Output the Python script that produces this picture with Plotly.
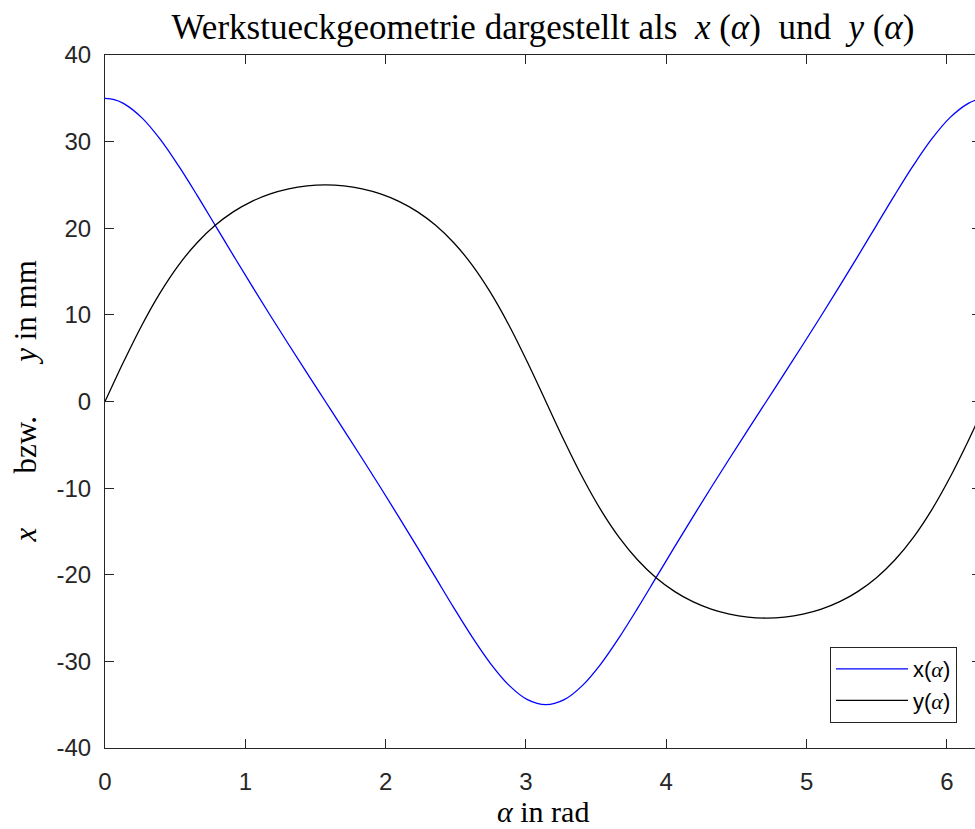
import plotly.graph_objects as go

# Winkel alpha in rad (Stützstellen, 7.5°-Schritte, an den Rändern verdichtet)
alpha = [0.0000, 0.0654, 0.1309, 0.2618, 0.3927, 0.5236, 0.6545, 0.7854, 0.9163, 1.0472, 1.1781,
         1.3090, 1.4399, 1.5708, 1.7017, 1.8326, 1.9635, 2.0944, 2.2253, 2.3562, 2.4871,
         2.6180, 2.7489, 2.8798, 3.0107, 3.1416, 3.2725, 3.4034, 3.5343, 3.6652, 3.7961,
         3.9270, 4.0579, 4.1888, 4.3197, 4.4506, 4.5815, 4.7124, 4.8433, 4.9742, 5.1051,
         5.2360, 5.3669, 5.4978, 5.6287, 5.7596, 5.8905, 6.0214, 6.1523, 6.2177, 6.2832]

# x(alpha) in mm
x_vals = [35.00, 34.85, 34.42, 32.77, 30.28, 27.22, 23.85, 20.34, 16.82, 13.34, 9.93,
          6.58, 3.28, 0.00, -3.28, -6.58, -9.93, -13.34, -16.82, -20.34, -23.85,
          -27.22, -30.28, -32.77, -34.42, -35.00, -34.42, -32.77, -30.28, -27.22, -23.85,
          -20.34, -16.82, -13.34, -9.93, -6.58, -3.28, 0.00, 3.28, 6.58, 9.93,
          13.34, 16.82, 20.34, 23.85, 27.22, 30.28, 32.77, 34.42, 34.85, 35.00]

# y(alpha) in mm
y_vals = [0.00, 2.28, 4.53, 8.78, 12.54, 15.72, 18.30, 20.34, 21.92, 23.11, 23.97,
          24.55, 24.89, 25.00, 24.89, 24.55, 23.97, 23.11, 21.92, 20.34, 18.30,
          15.72, 12.54, 8.78, 4.53, 0.00, -4.53, -8.78, -12.54, -15.72, -18.30,
          -20.34, -21.92, -23.11, -23.97, -24.55, -24.89, -25.00, -24.89, -24.55, -23.97,
          -23.11, -21.92, -20.34, -18.30, -15.72, -12.54, -8.78, -4.53, -2.28, 0.00]

x_ticks = [0, 1, 2, 3, 4, 5, 6]
x_ticklabels = ["0", "1", "2", "3", "4", "5", "6"]
y_ticks = [-40, -30, -20, -10, 0, 10, 20, 30, 40]
y_ticklabels = ["-40", "-30", "-20", "-10", "0", "10", "20", "30", "40"]

AX = "#262626"
SANS = "Liberation Sans, Arial, sans-serif"
SERIF = "Liberation Serif, Times New Roman, serif"
ALPHA_I = '<span style="font-family:Liberation Serif"><i>α</i></span>'

fig = go.Figure()
fig.add_trace(go.Scatter(x=alpha, y=x_vals, mode="lines", name="x(" + ALPHA_I + ")",
                         line=dict(color="#0000ff", width=1.3, shape="spline", smoothing=1.0)))
fig.add_trace(go.Scatter(x=alpha, y=y_vals, mode="lines", name="y(" + ALPHA_I + ")",
                         line=dict(color="#000000", width=1.3, shape="spline", smoothing=1.0)))
fig.add_trace(go.Scatter(x=[], y=[], xaxis="x", yaxis="y2", showlegend=False, hoverinfo="skip"))

fig.update_layout(
    width=975, height=829,
    margin=dict(l=105, r=0, t=55, b=81),
    paper_bgcolor="white", plot_bgcolor="white",
    showlegend=True,
    title=dict(
        text="Werkstueckgeometrie dargestellt als  <i>x</i> (<i>α</i>)  und  <i>y</i> (<i>α</i>)",
        font=dict(family=SERIF, size=35, color="#000000"),
        x=(543) / 975, xanchor="center", y=1 - 27 / 829, yanchor="middle",
    ),
    xaxis=dict(
        range=[0, 6.2], tickvals=x_ticks, ticktext=x_ticklabels,
        ticks="inside", ticklen=9, tickwidth=1, tickcolor=AX,
        showline=True, linecolor=AX, linewidth=1, mirror="ticks",
        showgrid=False, zeroline=False,
        tickfont=dict(family=SANS, size=24, color=AX),
        ticklabelstandoff=12,
    ),
    yaxis=dict(
        range=[-40, 40], tickvals=y_ticks, ticktext=y_ticklabels,
        ticks="inside", ticklen=9, tickwidth=1, tickcolor=AX,
        showline=True, linecolor=AX, linewidth=1, mirror=False,
        showgrid=False, zeroline=False,
        tickfont=dict(family=SANS, size=24, color=AX),
        ticklabelstandoff=8,
    ),
    yaxis2=dict(
        range=[-40, 40], tickvals=y_ticks, overlaying="y", side="right",
        ticks="inside", ticklen=3, tickwidth=1, tickcolor=AX,
        showline=False, showgrid=False, zeroline=False, showticklabels=False,
    ),
    legend=dict(
        x=(957 - 105) / 870, y=(748 - 723) / 693, xanchor="right", yanchor="bottom",
        bgcolor="white", bordercolor=AX, borderwidth=1,
        font=dict(family=SANS, size=22, color="#000000"),
        tracegroupgap=0, itemwidth=72,
    ),
    annotations=[
        dict(text="<i>α</i> in rad", xref="paper", yref="paper",
             x=(543 - 105) / 870, y=-(811 - 748) / 693, xanchor="center", yanchor="middle",
             showarrow=False, font=dict(family=SERIF, size=30, color="#000000")),
        dict(text="<i>x</i>       bzw.       <i>y</i> in mm", xref="paper", yref="paper",
             x=-(105 - 25) / 870, y=0.5, xanchor="center", yanchor="middle", textangle=-90,
             showarrow=False, font=dict(family=SERIF, size=31, color="#000000")),
    ],
)

fig.write_html("out.html")
